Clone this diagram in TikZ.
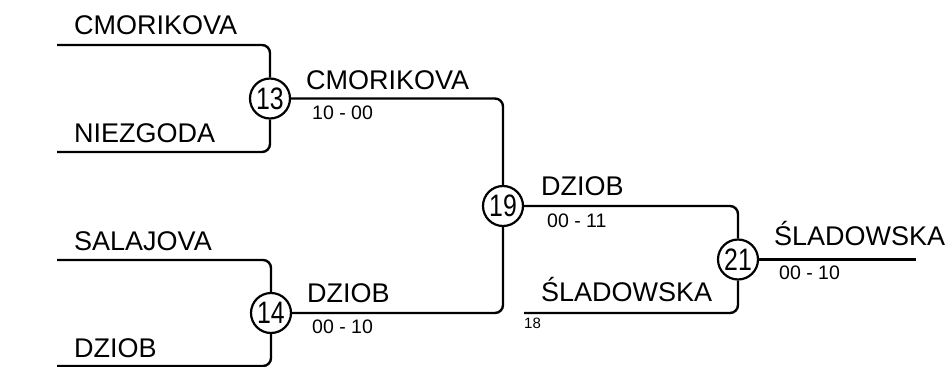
\documentclass[tikz,border=0pt]{standalone}
\usepackage{fontspec}
\setmainfont{Liberation Sans}
\usepackage{graphicx}
\usetikzlibrary{positioning}

\newcommand{\matchno}[1]{\scalebox{0.8}[1]{#1}}

\begin{document}
\begin{tikzpicture}[x=1pt, y=-1pt,
      player/.style={anchor=base west, inner sep=0pt, font=\fontsize{27}{31}\selectfont},
      score/.style={anchor=base west, inner sep=0pt, font=\fontsize{19.5}{23}\selectfont},
      seed/.style={anchor=base west, inner sep=0pt, font=\fontsize{15}{18}\selectfont},
      match/.style={draw, circle, fill=white, line width=2.2pt, minimum size=40pt, inner sep=0pt, font=\fontsize{31}{34}\selectfont},
      bracket/.style={line width=2.4pt, rounded corners=8pt}
    ]
    \useasboundingbox (0,0) rectangle (946,367);

    \node[match] (m13) at (270,98.5) {\matchno{13}};
    \node[match] (m14) at (271,313) {\matchno{14}};
    \node[match] (m19) at (503,206) {\matchno{19}};
    \node[match] (m21) at (738,259.5) {\matchno{21}};

    \coordinate (cmor) at (57,45);
    \coordinate (niez) at (57,152);
    \coordinate (sala) at (57,260);
    \coordinate (dzio) at (57,366);
    \coordinate (slad) at (524,313);
    \coordinate (win) at (916,259.5);

    \node[player] (n1) at (74,34) {CMORIKOVA};
    \node[player] (n2) at (74,142) {NIEZGODA};
    \node[player] (n3) at (74,250) {SALAJOVA};
    \node[player] (n4) at (74,357) {DZIOB};
    \node[player] (w13) at (306,89) {CMORIKOVA};
    \node[score] (s13) at (312,119) {10 - 00};
    \node[player] (w14) at (307,302) {DZIOB};
    \node[score] (s14) at (312,333) {00 - 10};
    \node[player] (w19) at (541,195) {DZIOB};
    \node[score] (s19) at (547,227) {00 - 11};
    \node[player] (n5) at (541,301) {ŚLADOWSKA};
    \node[seed] (sd5) at (524,328) {18};
    \node[player] (w21) at (774,245) {ŚLADOWSKA};
    \node[score] (s21) at (779,279) {00 - 10};

    \draw[bracket] (cmor) -| (m13); \draw[bracket] (niez) -| (m13);
    \draw[bracket] (sala) -| (m14); \draw[bracket] (dzio) -| (m14);
    \draw[bracket] (m13) -| (m19); \draw[bracket] (m14) -| (m19);
    \draw[bracket] (m19) -| (m21); \draw[bracket] (slad) -| (m21);
    \draw[bracket] (m21) -- (win);
  \end{tikzpicture}
\end{document}
